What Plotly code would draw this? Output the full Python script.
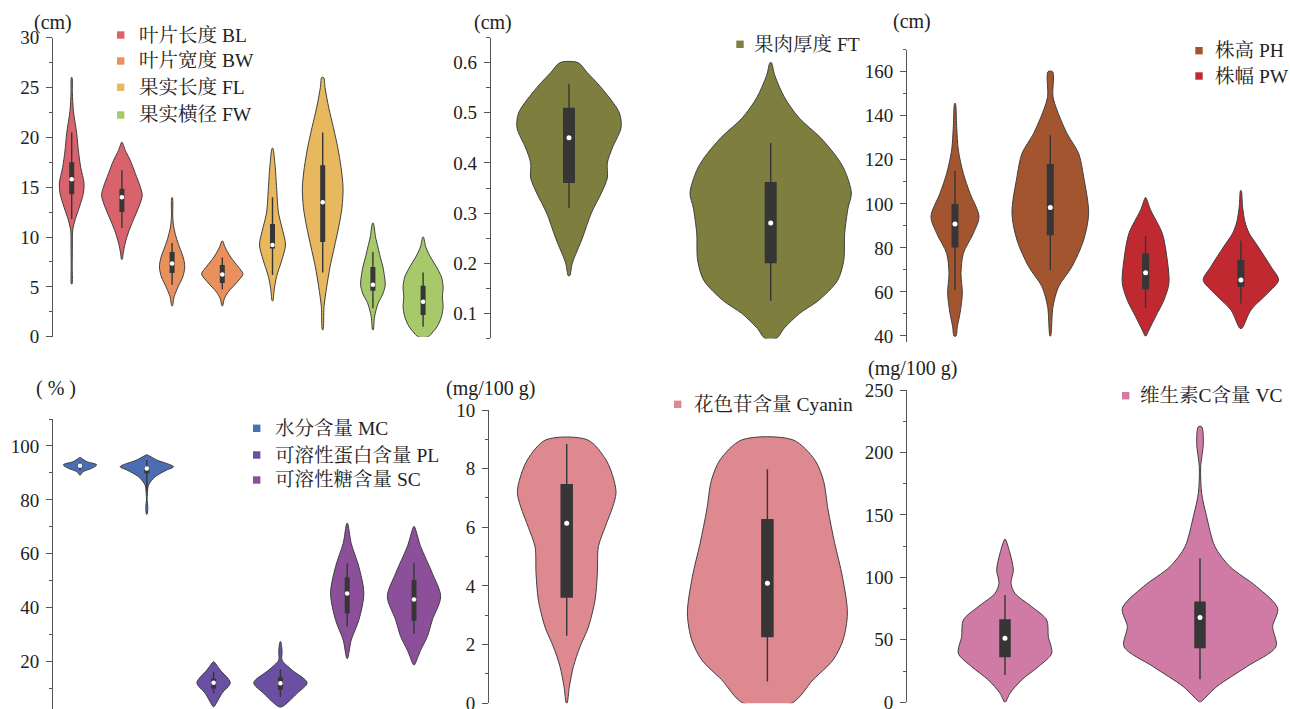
import plotly.graph_objects as go

W, H = 1290, 709
FONT = "Liberation Serif, Noto Serif CJK SC, Noto Sans CJK SC, serif"
EDGE = "#3f3f3f"
BOXC = "#363636"
AXC = "#555555"

# ---------------- colours per trait ----------------
COL = {
    "BL": "#d9636c", "BW": "#e8915c", "FL": "#e8b85f", "FW": "#a7c96a",
    "FT": "#7e7e3e", "PH": "#a3552f", "PW": "#c0292f",
    "MC": "#4a6db3", "PL": "#6a4fa3", "SC": "#8b5099",
    "Cyanin": "#de8990", "VC": "#d07aa6",
}

# ---------------- legend labels ----------------
P1_LABELS = ["叶片长度 BL", "叶片宽度 BW", "果实长度 FL", "果实横径 FW"]
P2_LABELS = ["果肉厚度 FT"]
P3_LABELS = ["株高 PH", "株幅 PW"]
P4_LABELS = ["水分含量 MC", "可溶性蛋白含量 PL", "可溶性糖含量 SC"]
P5_LABELS = ["花色苷含量 Cyanin"]
P6_LABELS = ["维生素C含量 VC"]
UNITS = ["(cm)", "(cm)", "(cm)", "( % )", "(mg/100 g)", "(mg/100 g)"]

# ---------------- violin profiles (value levels, relative density width) ----------------
# stats = [q1, median, q3, whisker_low, whisker_high]
BL_a_y = [5.3, 7, 9, 10.7, 11.7, 13, 14.4, 15.4, 17, 18.7, 20.4, 22.7, 24.5, 26]
BL_a_w = [1, 1.5, 2, 3, 10, 23, 35, 37, 27, 20, 15, 5, 2, 1]
BL_a_s = [14.3, 15.8, 17.5, 11.8, 20.5]
BL_b_y = [7.76, 8.4, 9.4, 10.7, 12.0, 13.4, 14.2, 15.05, 16.4, 17.7, 18.7, 19.5]
BL_b_w = [1, 4, 10, 22, 38, 55, 61, 55, 40, 25, 10, 1]
BL_b_s = [12.5, 14.0, 14.85, 10.9, 16.7]
BW_a_y = [3.1, 4, 5, 6, 7, 8, 9, 10, 11, 12, 13.95]
BW_a_w = [1, 6, 18, 32, 38, 33, 22, 12, 5, 2, 1]
BW_a_s = [6.4, 7.35, 8.5, 5.2, 9.4]
BW_b_y = [3.1, 3.8, 4.5, 5.5, 6.3, 7, 8, 9, 9.6]
BW_b_w = [1, 6, 18, 45, 62, 48, 25, 8, 1]
BW_b_s = [5.4, 6.25, 7.2, 4.75, 7.95]
FL_a_y = [3.6, 4.7, 6.0, 7.7, 9.2, 11.0, 12.4, 15.05, 17.05, 18.9]
FL_a_w = [1, 5, 12, 28, 39, 28, 18, 12, 8, 1]
FL_a_s = [8.85, 9.2, 11.3, 6.2, 14.0]
FL_b_y = [0.7, 3, 5, 7, 9, 11, 13, 15, 17, 19, 21, 23, 25, 26]
FL_b_w = [1, 4, 12, 22, 35, 48, 58, 61, 55, 45, 32, 18, 7, 3]
FL_b_s = [9.5, 13.5, 17.2, 6.45, 20.5]
FW_a_y = [0.7, 2, 3.3, 4.3, 5.2, 6, 7, 8, 9, 10, 11.4]
FW_a_w = [1, 5, 15, 30, 37, 35, 30, 22, 15, 8, 1]
FW_a_s = [4.6, 5.2, 7.0, 2.85, 8.5]
FW_b_y = [0, 0.5, 1, 2, 3, 4, 5, 6, 7, 8, 9, 10]
FW_b_w = [15, 30, 42, 55, 60, 58, 60, 55, 40, 22, 8, 1]
FW_b_s = [2.17, 3.5, 5.1, 1.0, 6.45]

FT_a_y = [0.175, 0.20, 0.25, 0.30, 0.34, 0.37, 0.40, 0.43, 0.47, 0.50, 0.55, 0.58, 0.60]
FT_a_w = [2, 10, 40, 67, 97, 115, 115, 130, 156, 151, 97, 55, 27]
FT_a_s = [0.36, 0.45, 0.51, 0.31, 0.558]
FT_b_y = [0.05, 0.07, 0.10, 0.125, 0.165, 0.205, 0.26, 0.31, 0.34, 0.385, 0.41, 0.45, 0.49, 0.53, 0.575, 0.60]
FT_b_w = [17, 40, 87, 142, 200, 219, 222, 232, 242, 222, 200, 150, 85, 42, 12, 2]
FT_b_s = [0.20, 0.28, 0.362, 0.125, 0.44]

PH_a_y = [40, 44.2, 50.3, 59.4, 68.4, 77.5, 86.6, 94.2, 104.8, 113.8, 124.4, 135, 145.6]
PH_a_w = [3, 7, 15, 22, 18, 25, 55, 72, 45, 25, 10, 5, 1]
PH_a_s = [80.2, 90.8, 99.9, 60.9, 114.9]
PH_b_y = [40, 53.3, 62.4, 71.5, 83.6, 95.7, 112.3, 122.9, 132, 142.6, 148.7, 160]
PH_b_w = [1, 8, 25, 65, 100, 115, 100, 85, 50, 20, 8, 7]
PH_b_s = [85.8, 98.4, 118.1, 70, 131.2]
PW_a_y = [40, 42.7, 48.8, 56.3, 63.9, 74.5, 86.6, 97.2, 102.8]
PW_a_w = [1, 10, 30, 55, 70, 65, 50, 15, 1]
PW_a_s = [61.2, 68.7, 77.5, 52.6, 85.5]
PW_b_y = [43.5, 51.8, 59.4, 65.4, 71.5, 80.5, 86.6, 92.0, 98.7, 106]
PW_b_w = [3, 30, 80, 113, 90, 52, 25, 12, 5, 1]
PW_b_s = [62.4, 65.4, 74.5, 54.8, 83.3]

MC_a_y = [89.2, 90.5, 91.7, 93, 94.2, 95.7]
MC_a_w = [1, 10, 35, 50, 20, 1]
MC_a_s = [92.0, 92.7, 93.2, 91.0, 94.0]
MC_b_y = [74.7, 77.5, 80, 82.4, 85.5, 88.6, 91.1, 92.3, 94.8, 96.7]
MC_b_w = [1, 3, 1, 2, 5, 25, 60, 80, 30, 1]
MC_b_s = [89.9, 91.6, 92.1, 83, 94.8]
PL_a_y = [3.3, 8.25, 12.2, 16.9, 20]
PL_a_w = [1, 25, 50, 20, 1]
PL_a_s = [10.1, 12.2, 13.8, 8.25, 16.3]
PL_b_y = [3.3, 8.25, 12.2, 16.9, 20.6, 23.7, 27.4]
PL_b_w = [5, 50, 80, 35, 5, 5, 1]
PL_b_s = [9.5, 12.0, 14.2, 7.0, 17.2]
SC_a_y = [21.2, 28, 35.5, 45.3, 55.2, 63.9, 71.3]
SC_a_w = [1, 12, 35, 50, 35, 12, 1]
SC_a_s = [37.9, 45.3, 51.3, 33, 56.5]
SC_b_y = [18.8, 24.3, 29.3, 35.5, 44.1, 52.8, 62.7, 70.1]
SC_b_w = [1, 20, 40, 55, 80, 55, 20, 1]
SC_b_s = [35.2, 43.1, 50.3, 30.3, 56.7]

CY_a_y = [0, 0.57, 1.25, 1.93, 2.6, 3.52, 4.43, 5.34, 6.0, 6.7, 7.16, 7.6, 8.3, 8.98]
CY_a_w = [1, 8, 20, 40, 65, 85, 92, 95, 115, 138, 148, 142, 118, 63]
CY_a_s = [3.6, 6.14, 7.48, 2.3, 8.84]
CY_b_y = [0, 0.8, 1.48, 2.16, 3.07, 4.32, 5.45, 6.59, 7.6, 8.3, 8.98]
CY_b_w = [72, 137, 197, 227, 240, 225, 202, 182, 168, 142, 77]
CY_b_s = [2.25, 4.09, 6.28, 0.74, 7.98]

VC_a_y = [0, 7.2, 17.9, 28.5, 39.2, 52.6, 65.9, 76.6, 87.2, 95.3, 105.9, 119.3, 130.5]
VC_a_w = [1, 15, 50, 100, 140, 130, 125, 80, 30, 18, 25, 15, 1]
VC_a_s = [36, 51.2, 66.4, 21.9, 85.9]
VC_b_y = [0, 12.5, 28.5, 44.6, 60.6, 75.2, 92.6, 108.6, 124.6, 148.6, 167.3, 188.6, 207.3, 220.6]
VC_b_w = [1, 50, 140, 228, 218, 233, 170, 90, 45, 20, 5, 2, 10, 5]
VC_b_s = [43.2, 67.8, 80.6, 18.4, 115.3]

# ---------------- panel layout (pixel geometry) ----------------
PANELS = [
    dict(ax=53.3, c0=71.7, sp=50.2, right=475, top=37.7, bot=336.7, yr=[0, 30], dt=5, mdt=2.5, bw=5, dot=4.5,
         violins=[("BL", BL_a_y, BL_a_w, BL_a_s), ("BL", BL_b_y, BL_b_w, BL_b_s),
                  ("BW", BW_a_y, BW_a_w, BW_a_s), ("BW", BW_b_y, BW_b_w, BW_b_s),
                  ("FL", FL_a_y, FL_a_w, FL_a_s), ("FL", FL_b_y, FL_b_w, FL_b_s),
                  ("FW", FW_a_y, FW_a_w, FW_a_s), ("FW", FW_b_y, FW_b_w, FW_b_s)],
         legend=(P1_LABELS, ["BL", "BW", "FL", "FW"], 120.7, [35, 61, 87.3, 115], 136.7),
         unit=(53, 23)),
    dict(ax=491, c0=569, sp=201.7, right=875, top=37.6, bot=338.4, yr=[0.05, 0.65], dt=0.1, mdt=0.05, bw=12, dot=5,
         violins=[("FT", FT_a_y, FT_a_w, FT_a_s), ("FT", FT_b_y, FT_b_w, FT_b_s)],
         legend=(P2_LABELS, ["FT"], 740, [44.3], 751.7), unit=(493, 23)),
    dict(ax=907.3, c0=955, sp=95.3, right=1290, top=49.7, bot=341.5, yr=[37.5, 170], dt=20, mdt=10, bw=7, dot=5,
         violins=[("PH", PH_a_y, PH_a_w, PH_a_s), ("PH", PH_b_y, PH_b_w, PH_b_s),
                  ("PW", PW_a_y, PW_a_w, PW_a_s), ("PW", PW_b_y, PW_b_w, PW_b_s)],
         legend=(P3_LABELS, ["PH", "PW"], 1199, [50.7, 76], 1213.3), unit=(912, 22)),
    dict(ax=53.3, c0=80, sp=66.8, right=475, top=419.0, bot=709, yr=[2.46, 110], dt=20, mdt=10, bw=5, dot=4.5,
         violins=[("MC", MC_a_y, MC_a_w, MC_a_s), ("MC", MC_b_y, MC_b_w, MC_b_s),
                  ("PL", PL_a_y, PL_a_w, PL_a_s), ("PL", PL_b_y, PL_b_w, PL_b_s),
                  ("SC", SC_a_y, SC_a_w, SC_a_s), ("SC", SC_b_y, SC_b_w, SC_b_s)],
         legend=(P4_LABELS, ["MC", "PL", "SC"], 256.7, [428.3, 455, 480], 273.3), unit=(56, 388)),
    dict(ax=489.3, c0=566.7, sp=200.7, right=875, top=410, bot=703.3, yr=[0, 10], dt=2, mdt=1, bw=12.5, dot=5,
         violins=[("Cyanin", CY_a_y, CY_a_w, CY_a_s), ("Cyanin", CY_b_y, CY_b_w, CY_b_s)],
         legend=(P5_LABELS, ["Cyanin"], 677.7, [404.3], 691.7), unit=(490, 388)),
    dict(ax=907.3, c0=1005, sp=195, right=1290, top=390, bot=702.3, yr=[0, 250], dt=50, mdt=25, bw=11.5, dot=5,
         violins=[("VC", VC_a_y, VC_a_w, VC_a_s), ("VC", VC_b_y, VC_b_w, VC_b_s)],
         legend=(P6_LABELS, ["VC"], 1125.7, [395.7], 1138.3), unit=(912, 368)),
]

fig = go.Figure()
annotations = []
shapes = []
layout_axes = {}

for i, p in enumerate(PANELS, start=1):
    sfx = "" if i == 1 else str(i)
    xa, ya = "x" + sfx, "y" + sfx
    wscale = 3.0 * p["sp"]   # density widths were read at 3x zoom
    for pos, (trait, ys, ws, st) in enumerate(p["violins"]):
        color = COL[trait]
        xr = [pos + w / wscale for w in ws]
        xl = [pos - w / wscale for w in ws[::-1]]
        xs = xr + xl + [xr[0]]
        yy = list(ys) + list(ys[::-1]) + [ys[0]]
        fig.add_trace(go.Scatter(x=xs, y=yy, mode="lines", fill="toself", fillcolor=color,
                                 line=dict(color=EDGE, width=1, shape="spline", smoothing=0.85),
                                 xaxis=xa, yaxis=ya, hoverinfo="skip", showlegend=False,
                                 cliponaxis=False))
        q1, med, q3, wl, wh = st
        fig.add_trace(go.Scatter(x=[pos, pos], y=[wl, wh], mode="lines",
                                 line=dict(color=BOXC, width=1.4), xaxis=xa, yaxis=ya,
                                 hoverinfo="skip", showlegend=False))
        fig.add_trace(go.Scatter(x=[pos, pos], y=[q1, q3], mode="lines",
                                 line=dict(color=BOXC, width=p["bw"]), xaxis=xa, yaxis=ya,
                                 hoverinfo="skip", showlegend=False))
        fig.add_trace(go.Scatter(x=[pos], y=[med], mode="markers",
                                 marker=dict(color="white", size=p["dot"], line=dict(width=0)),
                                 xaxis=xa, yaxis=ya, hoverinfo="skip", showlegend=False))

    x0 = (p["ax"] - p["c0"]) / p["sp"]
    x1 = (p["right"] - p["c0"]) / p["sp"]
    layout_axes["xaxis" + sfx] = dict(domain=[p["ax"] / W, p["right"] / W], range=[x0, x1],
                                      showline=False, showticklabels=False, ticks="",
                                      showgrid=False, zeroline=False, anchor=ya, fixedrange=True,
                                      automargin=False)
    layout_axes["yaxis" + sfx] = dict(domain=[max(0, 1 - p["bot"] / H), 1 - p["top"] / H], range=p["yr"],
                                      showline=True, linecolor=AXC, linewidth=1.3,
                                      ticks="outside", ticklen=6, tickwidth=1.3, tickcolor=AXC,
                                      tick0=0, dtick=p["dt"],
                                      minor=dict(ticks="outside", ticklen=3.5, tickwidth=1.1,
                                                 tickcolor=AXC, dtick=p["mdt"], tick0=0, showgrid=False),
                                      tickfont=dict(family=FONT, size=19, color="#222222"),
                                      ticklabelstandoff=3, ticklabeloverflow="allow", automargin=False,
                                      showgrid=False, zeroline=False, anchor=xa, fixedrange=True)

    labels, traits, mx, mys, tx = p["legend"]
    for lab, tr, my in zip(labels, traits, mys):
        s = 3.7
        shapes.append(dict(type="rect", xref="paper", yref="paper",
                           x0=(mx - s) / W, x1=(mx + s) / W, y0=1 - (my + s) / H, y1=1 - (my - s) / H,
                           fillcolor=COL[tr], line=dict(width=0)))
        annotations.append(dict(text=lab, xref="paper", yref="paper", x=tx / W, y=1 - my / H,
                                xanchor="left", yanchor="middle", showarrow=False,
                                font=dict(family=FONT, size=19.5, color="#222222")))
    ux, uy = p["unit"]
    annotations.append(dict(text=UNITS[i - 1], xref="paper", yref="paper", x=ux / W, y=1 - uy / H,
                            xanchor="center", yanchor="middle", showarrow=False,
                            font=dict(family=FONT, size=20, color="#222222")))

fig.update_layout(template="none", width=W, height=H, margin=dict(l=0, r=0, t=0, b=0, pad=0, autoexpand=False),
                  paper_bgcolor="white", plot_bgcolor="rgba(0,0,0,0)",
                  showlegend=False, annotations=annotations, shapes=shapes, **layout_axes)

fig.write_html("out.html", config={"displayModeBar": False},
               post_script="document.body.style.margin='0px';document.body.style.overflow='hidden';")
